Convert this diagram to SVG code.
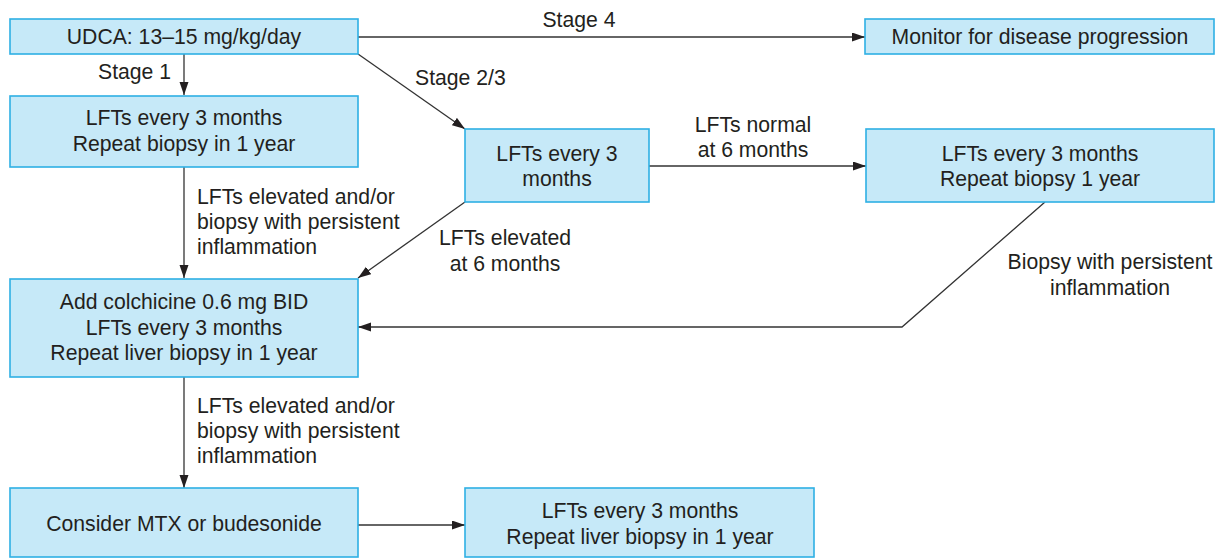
<svg xmlns="http://www.w3.org/2000/svg" width="1215" height="559" viewBox="0 0 1215 559">
<style>
.box{fill:#c6e9f8;stroke:#2eb0e4;stroke-width:1.6}
.t{font-family:"Liberation Sans",Arial,sans-serif;font-size:21.2px;fill:#231f20;text-anchor:middle}
.l{font-family:"Liberation Sans",Arial,sans-serif;font-size:21.2px;fill:#231f20}
.c{fill:none;stroke:#333;stroke-width:1.3}
</style>
<defs>
<marker id="ah" markerUnits="userSpaceOnUse" markerWidth="14" markerHeight="10" refX="13" refY="4.5" orient="auto">
<path d="M0,0 L13,4.5 L0,9 Z" fill="#231f20"/>
</marker>
</defs>
<rect width="1215" height="559" fill="#fff"/>
<g id="connectors">
<line class="c" x1="184" y1="54" x2="184" y2="95" marker-end="url(#ah)"/>
<line class="c" x1="358" y1="37" x2="865" y2="37" marker-end="url(#ah)"/>
<line class="c" x1="358" y1="54" x2="465" y2="129" marker-end="url(#ah)"/>
<line class="c" x1="649" y1="166" x2="866" y2="166" marker-end="url(#ah)"/>
<line class="c" x1="184" y1="167" x2="184" y2="278" marker-end="url(#ah)"/>
<line class="c" x1="465" y1="202" x2="358" y2="278" marker-end="url(#ah)"/>
<polyline class="c" points="1045,202 902,327 358,327" marker-end="url(#ah)"/>
<line class="c" x1="184" y1="377" x2="184" y2="488" marker-end="url(#ah)"/>
<line class="c" x1="358" y1="525" x2="465" y2="525" marker-end="url(#ah)"/>
<text class="l" x="98" y="79">Stage 1</text>
<text class="t" x="579" y="27">Stage 4</text>
<text class="l" x="415" y="85">Stage 2/3</text>
<text class="t" x="753" y="132">LFTs normal</text>
<text class="t" x="753" y="157">at 6 months</text>
<text class="t" x="505" y="245">LFTs elevated</text>
<text class="t" x="505" y="271">at 6 months</text>
<text class="t" x="1110" y="269">Biopsy with persistent</text>
<text class="t" x="1110" y="295">inflammation</text>
<text class="l" x="197" y="204">LFTs elevated and/or</text>
<text class="l" x="197" y="229">biopsy with persistent</text>
<text class="l" x="197" y="254">inflammation</text>
<text class="l" x="197" y="413">LFTs elevated and/or</text>
<text class="l" x="197" y="438">biopsy with persistent</text>
<text class="l" x="197" y="463">inflammation</text>
</g>
<g id="udca">
<rect class="box" x="10" y="19" width="348" height="35"/>
<text class="t" x="184" y="44">UDCA: 13–15 mg/kg/day</text>
</g>
<g id="monitor">
<rect class="box" x="865" y="19" width="349" height="35"/>
<text class="t" x="1040" y="44">Monitor for disease progression</text>
</g>
<g id="stage1">
<rect class="box" x="10" y="96" width="348" height="71"/>
<text class="t" x="184" y="125">LFTs every 3 months</text>
<text class="t" x="184" y="151">Repeat biopsy in 1 year</text>
</g>
<g id="stage23">
<rect class="box" x="465" y="129" width="184" height="73"/>
<text class="t" x="557" y="161">LFTs every 3</text>
<text class="t" x="557" y="186">months</text>
</g>
<g id="normal">
<rect class="box" x="866" y="129" width="348" height="73"/>
<text class="t" x="1040" y="161">LFTs every 3 months</text>
<text class="t" x="1040" y="186">Repeat biopsy 1 year</text>
</g>
<g id="colchicine">
<rect class="box" x="10" y="279" width="348" height="98"/>
<text class="t" x="184" y="309">Add colchicine 0.6 mg BID</text>
<text class="t" x="184" y="335">LFTs every 3 months</text>
<text class="t" x="184" y="360">Repeat liver biopsy in 1 year</text>
</g>
<g id="mtx">
<rect class="box" x="10" y="488" width="348" height="69"/>
<text class="t" x="184" y="531">Consider MTX or budesonide</text>
</g>
<g id="final">
<rect class="box" x="465" y="488" width="349" height="69"/>
<text class="t" x="640" y="518">LFTs every 3 months</text>
<text class="t" x="640" y="544">Repeat liver biopsy in 1 year</text>
</g>
</svg>
